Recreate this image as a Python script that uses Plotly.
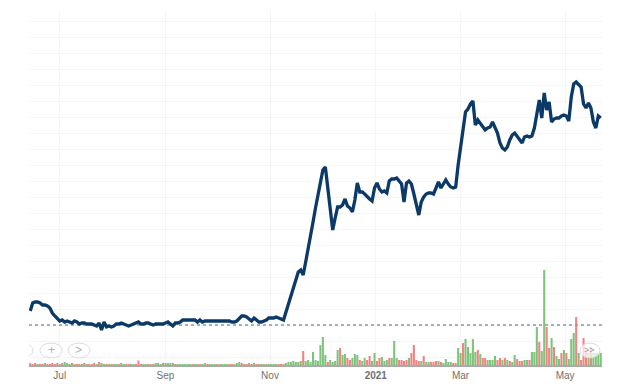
import plotly.graph_objects as go

# ---- data ----
price = [
    8.9, 9.7, 9.8, 9.8, 9.7, 9.5, 9.5, 9.4, 9.2, 8.7,
    8.4, 8.2, 7.9, 8.0, 7.8, 7.9, 7.8, 7.7, 7.9, 7.8,
    7.6, 7.7, 7.7, 7.6, 7.6, 7.6, 7.5, 7.4, 7.7, 7.0,
    7.8, 7.3, 7.4, 7.3, 7.4, 7.6, 7.6, 7.7, 7.6, 7.5,
    7.4, 7.5, 7.6, 7.7, 7.8, 7.6, 7.6, 7.7, 7.7, 7.6,
    7.5, 7.6, 7.6, 7.6, 7.6, 7.7, 7.8, 7.6, 7.4, 7.7,
    7.7, 7.8, 8.0, 8.0, 8.0, 8.0, 8.0, 8.0, 7.8, 8.0,
    7.8, 7.9, 7.9, 7.9, 7.9, 7.9, 7.9, 7.9, 7.9, 7.9,
    7.9, 7.9, 7.8, 7.8, 7.9, 8.2, 8.4, 8.4, 8.3, 8.1,
    7.9, 8.2, 8.0, 7.8, 7.8, 7.9, 8.0, 8.2, 8.2, 8.2,
    8.3, 8.2, 8.1, 8.0, 8.8, 9.6, 10.3, 11.0, 11.8, 12.8,
    13.0, 12.5, 13.8, 15.0, 16.5, 17.8, 19.2, 20.4, 21.7, 23.0,
    23.3, 21.2, 19.0, 17.0, 18.2, 19.3, 19.3, 19.5, 20.1, 19.4,
    19.2, 18.8, 20.0, 21.7, 20.8, 20.8, 20.6, 20.3, 20.1, 19.9,
    21.2, 21.7, 21.1, 20.8, 20.9, 20.7, 21.9, 22.1, 22.1, 22.2,
    21.9, 21.6, 19.8, 21.7, 21.9, 21.6, 20.6, 19.4, 18.5, 19.8,
    20.3, 20.6, 20.7, 20.7, 20.6, 21.2, 21.8, 21.2, 21.6, 22.0,
    21.6, 21.3, 21.2, 21.3, 23.5, 25.2, 26.8, 28.8, 29.1, 29.6,
    29.9, 27.5, 28.0, 27.7, 27.4, 27.0, 27.2, 27.3, 27.8, 27.3,
    26.7, 25.7, 25.2, 25.0, 25.3, 26.0, 26.5, 26.7, 26.4, 26.1,
    25.7, 26.3, 26.4, 26.3, 26.4, 27.2, 28.7, 30.0, 28.2, 30.7,
    29.0, 29.8, 27.8, 28.1, 28.2, 28.2, 28.4, 28.5, 28.4, 27.9,
    30.3, 31.6, 31.8, 31.5, 31.3, 29.6, 29.2, 29.7, 29.2, 27.8,
    27.2, 28.4, 28.2,
]

volume = [
    0.2, 0.1, 0.2, 0.1, 0.1, 0.1, 0.2, 0.1, 0.1, 0.2,
    0.1, 0.2, 0.1, 0.2, 0.3, 0.2, 0.1, 0.2, 0.1, 0.1,
    0.1, 0.1, 0.2, 0.1, 0.1, 0.1, 0.2, 0.1, 0.3, 0.2,
    0.1, 0.1, 0.1, 0.1, 0.1, 0.1, 0.1, 0.2, 0.1, 0.1,
    0.1, 0.1, 0.1, 0.1, 0.45, 0.1, 0.1, 0.1, 0.1, 0.1,
    0.1, 0.2, 0.2, 0.1, 0.2, 0.2, 0.2, 0.2, 0.2, 0.1,
    0.1, 0.1, 0.1, 0.1, 0.1, 0.1, 0.1, 0.1, 0.1, 0.1,
    0.1, 0.2, 0.1, 0.1, 0.1, 0.1, 0.1, 0.1, 0.1, 0.1,
    0.1, 0.1, 0.1, 0.1, 0.2, 0.3, 0.2, 0.1, 0.1, 0.2,
    0.1, 0.2, 0.1, 0.1, 0.1, 0.1, 0.1, 0.1, 0.1, 0.1,
    0.1, 0.1, 0.1, 0.1, 0.2, 0.3, 0.3, 0.4, 0.3, 0.3,
    0.4, 1.4, 0.4, 0.5, 0.3, 1.3, 0.5, 0.4,
    2.0, 2.8, 1.0, 0.3, 0.5, 0.3, 0.4, 1.5, 1.7, 1.0,
    1.1, 0.7, 0.5, 0.7, 1.1, 1.0, 0.5, 0.4, 0.7, 0.5,
    0.9, 0.4, 1.2, 0.4, 0.7, 0.8, 0.4, 0.5, 0.7, 0.7,
    2.4, 0.7, 0.5, 0.5, 0.4, 0.5, 0.7, 1.2, 2.0, 0.5,
    0.4, 0.4, 0.9, 0.3, 0.3, 0.3, 0.3, 0.4, 0.4, 0.3,
    0.2, 0.6, 0.3, 0.3, 0.2, 0.2, 1.7, 1.2, 2.2, 2.6,
    1.8, 1.2, 2.6, 1.3, 1.5, 1.1, 0.7, 0.7, 0.5, 0.5,
    0.5, 0.9, 0.5, 0.7, 0.5, 0.7, 0.5, 0.4, 0.3, 1.0,
    0.6, 0.4, 0.4, 0.5, 0.5, 0.5, 1.3, 1.3, 3.8, 2.3,
    1.4, 9.5, 3.8, 1.7, 2.7, 1.8, 0.9, 0.6, 1.2, 1.5,
    1.2, 0.6, 2.6, 3.2, 4.8, 1.2, 0.5, 2.7, 1.5, 1.2,
    1.8, 1.2, 1.2, 1.2, 1.2,
]

# g = up day, r = down day
direction = (
    "rrrgrrgrrr" "rrgrgggrgr" "rgrgrrrgrg" "grgrggrggr" "rggrrrggrg"
    "rgggrggggr" "ggggggrggr" "ggrgggrggg" "grrgggrrrg" "rgrrggrggg"
    "grrrgggggg" "grgggggg"
    "gggrggggrg" "grrgggrggr" "rggrrgggrg" "ggrrrrgrrr" "rgrggrrrgr"
    "ggggrrggrg" "ggggrgrrgg" "ggrrgrgrgg" "rrrggrgggr" "ggrrgrggrg"
    "rgggrgrrrg" "rgggg"
)

tick_pos = [12, 55, 97.5, 140.5, 175, 217.5]
tick_text = ["Jul", "Sep", "Nov", "<b>2021</b>", "Mar", "May"]
ref_price = 7.5

assert len(price) == len(volume) == len(direction), (len(price), len(volume), len(direction))

GREEN = "#7fc47b"
RED = "#f38383"
n = len(price)
idx = list(range(n))
bar_colors = [GREEN if d == "g" else RED for d in direction]

fig = go.Figure()
fig.add_trace(go.Bar(
    x=idx, y=volume, yaxis="y",
    marker=dict(color=bar_colors, line=dict(width=0)),
    hoverinfo="skip", showlegend=False,
))
fig.add_trace(go.Scatter(
    x=[idx[0] - 0.5, idx[-1] + 0.5], y=[ref_price, ref_price], yaxis="y2",
    mode="lines", line=dict(color="#8598ae", width=1.5, dash="dot"),
    hoverinfo="skip", showlegend=False,
))
fig.add_trace(go.Scatter(
    x=idx, y=price, yaxis="y2", mode="lines",
    line=dict(color="#0b3a68", width=3.3),
    showlegend=False,
))

grid = "#f5f5f5"
# page body adds an 8px offset; margins compensate so the plot area lands at x 29-602, y 11-365
fig.update_layout(
    width=630, height=376,
    margin=dict(l=21, r=36, t=3, b=19, pad=0),
    plot_bgcolor="white", paper_bgcolor="white",
    showlegend=False, bargap=0.15,
    xaxis=dict(
        range=[-0.5, n - 0.5], tickmode="array", tickvals=tick_pos, ticktext=tick_text,
        showgrid=True, gridcolor=grid, gridwidth=1,
        showline=True, linecolor="#a9a9a9", linewidth=1.5,
        ticks="", zeroline=False,
        tickfont=dict(family="Liberation Sans, Arial, sans-serif", size=10, color="#6f6f6f"),
    ),
    yaxis=dict(range=[0, 35.4], showgrid=False, showticklabels=False, zeroline=False,
               fixedrange=True),
    yaxis2=dict(range=[3.5, 38.9], overlaying="y", side="right",
                tick0=7.5, dtick=1.6, showgrid=True, gridcolor=grid,
                showticklabels=False, zeroline=False, showline=False, ticks=""),
)

# navigator buttons (decorative UI)
btn_line = dict(color="#dcdcdc", width=1)
shapes = [
    dict(type="circle", xref="x", yref="paper", x0=-7.8, x1=1.1, y0=0.02, y1=0.062,
         line=btn_line, fillcolor="rgba(255,255,255,0.85)", layer="above"),
    dict(type="circle", xref="paper", yref="paper", x0=0.019, x1=0.058, y0=0.02, y1=0.062,
         line=btn_line, fillcolor="rgba(255,255,255,0.85)", layer="above"),
    dict(type="circle", xref="paper", yref="paper", x0=0.068, x1=0.1065, y0=0.02, y1=0.062,
         line=btn_line, fillcolor="rgba(255,255,255,0.85)", layer="above"),
    dict(type="circle", xref="paper", yref="paper", x0=0.9616, x1=0.9965, y0=0.02, y1=0.062,
         line=btn_line, fillcolor="rgba(255,255,255,0.7)", layer="above"),
]
fig.update_layout(shapes=shapes)
btn_font = dict(family="Liberation Sans, Arial, sans-serif", size=12, color="#b0b0b0")
for bx, label, f in [
    (0.0385, "+", btn_font),
    (0.087, "&gt;", btn_font),
    (0.979, "&gt;&gt;", dict(family="Liberation Sans, Arial, sans-serif", size=9, color="#999999")),
]:
    fig.add_annotation(x=bx, y=0.041, xref="paper", yref="paper", text=label,
                       showarrow=False, xanchor="center", yanchor="middle", font=f)

fig.write_html("out.html")
